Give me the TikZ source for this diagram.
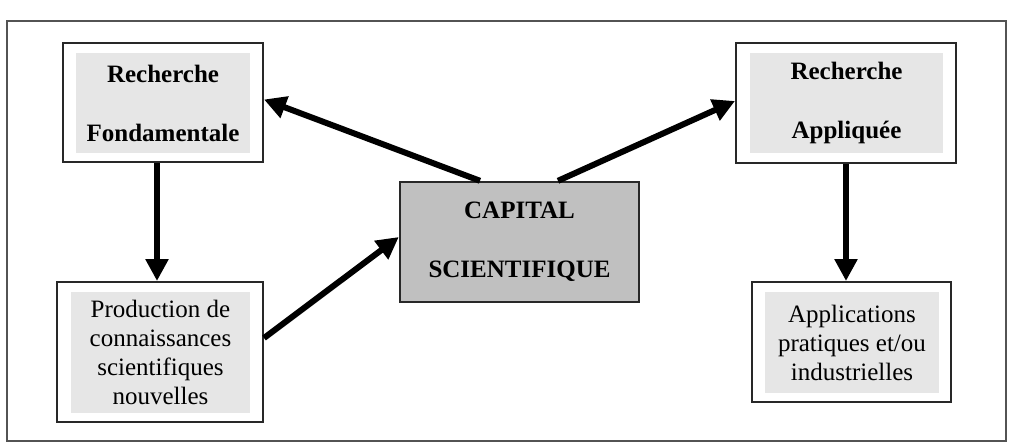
\documentclass[tikz,border=0pt]{standalone}
\usepackage{fontspec}
\setmainfont{Liberation Serif}
\usetikzlibrary{arrows.meta,positioning}
\definecolor{ink}{RGB}{40,40,40}
\definecolor{paper}{RGB}{230,230,230}
\definecolor{silver}{RGB}{192,192,192}
\tikzset{
  >={Triangle[length=11pt,width=11pt]},
  outer/.style={draw=ink,line width=1pt,fill=white,inner sep=0pt},
  inner/.style={fill=paper,inner sep=0pt,align=center,
    font=\fontsize{12.5}{14.5}\selectfont},
  core/.style={draw=ink,line width=1.2pt,fill=silver,inner sep=0pt,align=center,
    font=\fontsize{12.5}{14.5}\selectfont\bfseries},
  flow/.style={->,line width=3pt,draw=black},
}
\begin{document}
\begin{tikzpicture}[x=0.5pt,y=-0.5pt]
  \useasboundingbox (0,0) rectangle (1017,444);
  \draw[draw=ink!80,line width=1pt] (7,21) rectangle (1006,441);
  % recherche fondamentale
  \node[outer,minimum width=100pt,minimum height=59.5pt] (rf) at (163,102.5) {};
  \node[inner,minimum width=87pt,minimum height=50pt,font=\fontsize{12.5}{14.5}\selectfont\bfseries] (rfin) at (163,103) {Recherche\\[15pt]Fondamentale};
  % recherche appliquee
  \node[outer,minimum width=110pt,minimum height=60pt] (ra) at (846,103) {};
  \node[inner,minimum width=96.5pt,minimum height=50pt,font=\fontsize{12.5}{14.5}\selectfont\bfseries] (rain) at (846.5,103) {Recherche\\[15pt]Appliquée};
  % capital
  \node[core,minimum width=119.5pt,minimum height=60pt] (cap) at (519.5,242) {CAPITAL\\[15pt]SCIENTIFIQUE};
  % production
  \node[outer,minimum width=103pt,minimum height=70pt] (pr) at (160,352) {};
  \node[inner,minimum width=89.5pt,minimum height=60.5pt] (prin) at (160.5,352.5) {Production de\\connaissances\\scientifiques\\nouvelles};
  % applications
  \node[outer,minimum width=99.5pt,minimum height=60pt] (ap) at (851.5,342) {};
  \node[inner,minimum width=87pt,minimum height=50.5pt] (apin) at (852,342.5) {Applications\\pratiques et/ou\\industrielles};
  % fleches
  \draw[flow] ([xshift=-19.75pt]cap.north) -- ([yshift=1.5pt]rf.east);
  \draw[flow] ([xshift=19.25pt]cap.north) -- ([yshift=1pt]ra.west);
  \draw[flow] ([xshift=-3pt]rf.south) -- ([xshift=-3pt]rf.south |- pr.north);
  \draw[flow] (ra.south) -- (ra.south |- ap.north);
  \draw[flow] ([yshift=7pt]pr.east) -- ([yshift=2.5pt]cap.west);
\end{tikzpicture}
\end{document}
